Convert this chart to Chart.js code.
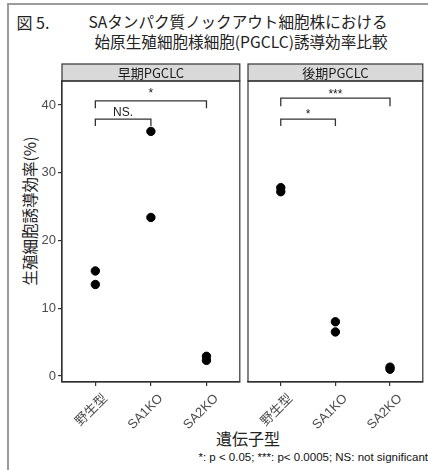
<!DOCTYPE html>
<html>
<head>
<meta charset="utf-8">
<script src="https://cdn.jsdelivr.net/npm/chart.js@4.4.0/dist/chart.umd.min.js"></script>
<style>
body { margin: 0; width: 428px; height: 470px; overflow: hidden; background: #fff; position: relative; font-family: "Noto Sans CJK JP", sans-serif; }
#frame { position: absolute; left: 7px; top: 3px; width: 600px; height: 600px; border: 2px solid #9b9b9b; box-sizing: border-box; }
canvas { position: absolute; top: 0; }
.c { position: absolute; color: #222; white-space: nowrap; line-height: 1; transform: translate(-50%, -50%); }
</style>
</head>
<body>
<div id="frame"></div>
<div class="c" style="left:33px;top:22px;font-size:16px">図 5.</div>
<div class="c" style="left:238px;top:22px;font-size:15.6px">SAタンパク質ノックアウト細胞株における</div>
<div class="c" style="left:241px;top:42px;font-size:15.6px">始原生殖細胞様細胞(PGCLC)誘導効率比較</div>
<div class="c" style="left:30px;top:211px;font-size:15.5px;transform:translate(-50%,-50%) rotate(-90deg)">生殖細胞誘導効率(%)</div>
<div class="c" style="left:248px;top:438px;font-size:16px">遺伝子型</div>
<div style="position:absolute;right:0;top:451px;font:11.5px 'Liberation Sans';color:#111;white-space:nowrap">*: p &lt; 0.05; ***: p&lt; 0.0005; NS: not significant</div>
<canvas id="early" width="245" height="470" style="left:0"></canvas>
<canvas id="late" width="228" height="470" style="left:200px"></canvas>
<script>
const categories = ['野生型', 'SA1KO', 'SA2KO'];
const yTicks = [0, 10, 20, 30, 40];
const panelTitles = ['早期PGCLC', '後期PGCLC'];

// induction efficiency (%), two replicates per genotype
const earlyWT = [15.5, 13.5];
const earlySA1KO = [36.1, 23.4];
const earlySA2KO = [2.9, 2.3];
const lateWT = [27.8, 27.2];
const lateSA1KO = [8.0, 6.5];
const lateSA2KO = [1.3, 1.0];

// significance brackets: [from, to, top, leg end]
const earlyBrackets = [[1, 3, 40.6, 39.5], [1, 2, 37.9, 36.9]];
const lateBrackets = [[1, 3, 41.0, 39.8], [1, 2, 37.9, 36.9]];
const earlyLabels = ['*', 'NS.'];
const lateLabels = ['***', '*'];
const earlyLabelY = [41.2, 38.4];
const lateLabelY = [41.0, 38.1];

const tickFont = { family: "'Liberation Sans', 'Noto Sans CJK JP'", size: 13 };

const panelDeco = {
  id: 'panelDeco',
  afterDraw(chart, args, opts) {
    const { ctx, chartArea: a, scales } = chart;
    const stripTop = 64;
    ctx.save();
    ctx.fillStyle = '#d9d9d9';
    ctx.fillRect(a.left, stripTop, a.right - a.left, a.top - stripTop);
    ctx.strokeStyle = '#333';
    ctx.lineWidth = 1.2;
    ctx.strokeRect(a.left, stripTop, a.right - a.left, a.top - stripTop);
    ctx.strokeRect(a.left, a.top, a.right - a.left, a.bottom - a.top);
    ctx.fillStyle = '#1a1a1a';
    ctx.font = "13px 'Noto Sans CJK JP'";
    ctx.textAlign = 'center';
    ctx.textBaseline = 'middle';
    ctx.fillText(opts.title, (a.left + a.right) / 2, (stripTop + a.top) / 2 + 0.5);
    ctx.font = "12px 'Liberation Sans'";
    ctx.textBaseline = 'alphabetic';
    opts.brackets.forEach((b, i) => {
      const x = scales.x.getPixelForValue((b[0] + b[1]) / 2);
      const y = scales.y.getPixelForValue(opts.labelY[i]);
      ctx.fillText(opts.labels[i], x, y);
    });
    ctx.restore();
  }
};

function makePanel(id, title, groups, brackets, labels, labelY, showY) {
  const points = [];
  groups.forEach((vals, i) => vals.forEach(v => points.push({ x: i + 1, y: v })));
  const datasets = [{
    data: points,
    backgroundColor: '#000',
    borderColor: '#000',
    pointRadius: 4.2,
    pointHoverRadius: 4.2
  }];
  brackets.forEach(b => {
    datasets.push({
      data: [{ x: b[0], y: b[3] }, { x: b[0], y: b[2] }, { x: b[1], y: b[2] }, { x: b[1], y: b[3] }],
      showLine: true,
      borderColor: '#333',
      borderWidth: 1.3,
      pointRadius: 0,
      fill: false
    });
  });
  return new Chart(document.getElementById(id), {
    type: 'scatter',
    data: { datasets: datasets },
    options: {
      responsive: false,
      animation: false,
      devicePixelRatio: 1,
      layout: { padding: { top: 81, left: showY ? 0 : 48, right: showY ? 3 : 1, bottom: 38 } },
      plugins: {
        legend: { display: false },
        tooltip: { enabled: false },
        panelDeco: { title: title, brackets: brackets, labels: labels, labelY: labelY }
      },
      scales: {
        x: {
          type: 'linear',
          min: 0.4,
          max: 3.6,
          afterBuildTicks: s => { s.ticks = categories.map((c, i) => ({ value: i + 1 })); },
          afterFit: s => { s.height = 50; },
          ticks: {
            callback: v => categories[v - 1],
            minRotation: 45,
            maxRotation: 45,
            autoSkip: false,
            padding: 5,
            labelOffset: 10,
            color: '#4d4d4d',
            font: tickFont
          },
          grid: { display: true, drawOnChartArea: false, drawTicks: true, tickLength: 4, color: '#333', lineWidth: 1.2 },
          border: { display: true, color: '#333', width: 1.2 }
        },
        y: {
          display: showY,
          min: -0.89,
          max: 43.54,
          afterBuildTicks: s => { s.ticks = yTicks.map(v => ({ value: v })); },
          afterFit: s => { s.width = showY ? 62 : 0; },
          ticks: { padding: 2, color: '#4d4d4d', font: tickFont },
          grid: { display: true, drawOnChartArea: false, drawTicks: true, tickLength: 4, color: '#333', lineWidth: 1.2 },
          border: { display: true, color: '#333', width: 1.2 }
        }
      }
    },
    plugins: [panelDeco]
  });
}

makePanel('early', panelTitles[0], [earlyWT, earlySA1KO, earlySA2KO], earlyBrackets, earlyLabels, earlyLabelY, true);
makePanel('late', panelTitles[1], [lateWT, lateSA1KO, lateSA2KO], lateBrackets, lateLabels, lateLabelY, false);
</script>
</body>
</html>
